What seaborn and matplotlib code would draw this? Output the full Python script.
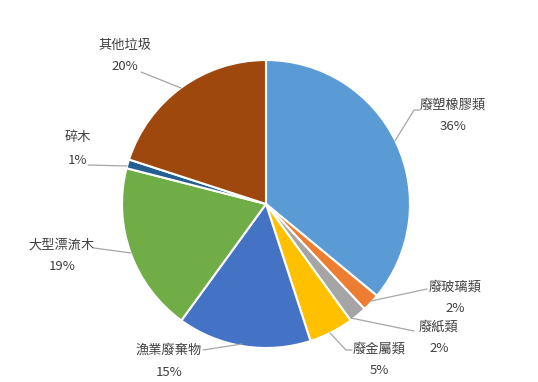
import matplotlib
matplotlib.use("Agg")
import matplotlib.pyplot as plt
import seaborn as sns

sns.set_theme(style="white")
plt.rcParams['font.family'] = ['Noto Sans CJK TC', 'DejaVu Sans']

categories = ["廢塑橡膠類", "廢玻璃類", "廢紙類", "廢金屬類", "漁業廢棄物", "大型漂流木", "碎木", "其他垃圾"]
values = [36, 2, 2, 5, 15, 19, 1, 20]
colors = ["#5B9BD5", "#ED7D31", "#A5A5A5", "#FFC000", "#4472C4", "#70AD47", "#255E91", "#9E480E"]

# label text centres (pixel coords, y from top) and leader line paths
label_pos = [(453, 105), (455, 287), (439, 327), (379, 349), (169, 350), (62, 245), (78, 138), (125, 45)]
leaders = [
    [(395, 141), (414, 110), (420, 110)],
    [(371, 301), (427, 289)],
    [(351, 318), (414, 331)],
    [(330, 333), (346, 350), (352, 350)],
    [(242, 344), (203, 350)],
    [(131, 253), (94, 248)],
    [(127, 166), (88, 165)],
    [(181, 88), (141, 72)],
]

W, H = 538, 382
fig = plt.figure(figsize=(W / 100, H / 100), dpi=100)
ax = fig.add_axes([0, 0, 1, 1])

cx, cy, r = 266, 204, 144
ax.pie(values, colors=colors, startangle=90, counterclock=False,
       center=(cx, H - cy), radius=r, frame=True,
       wedgeprops=dict(edgecolor="white", linewidth=1.5))
ax.set_xlim(0, W)
ax.set_ylim(0, H)
ax.axis("off")

txt_color = "#404040"
for cat, val, (lx, ly), path in zip(categories, values, label_pos, leaders):
    xs = [p[0] for p in path]
    ys = [H - p[1] for p in path]
    ax.plot(xs, ys, color="#A6A6A6", linewidth=0.9, zorder=1)
    ax.text(lx, H - ly, cat, ha="center", va="center", fontsize=9.5, color=txt_color)
    ax.text(lx, H - ly - 22, f"{val}%", ha="center", va="center", fontsize=9.5, color=txt_color)

fig.savefig("out.png", dpi=100)
